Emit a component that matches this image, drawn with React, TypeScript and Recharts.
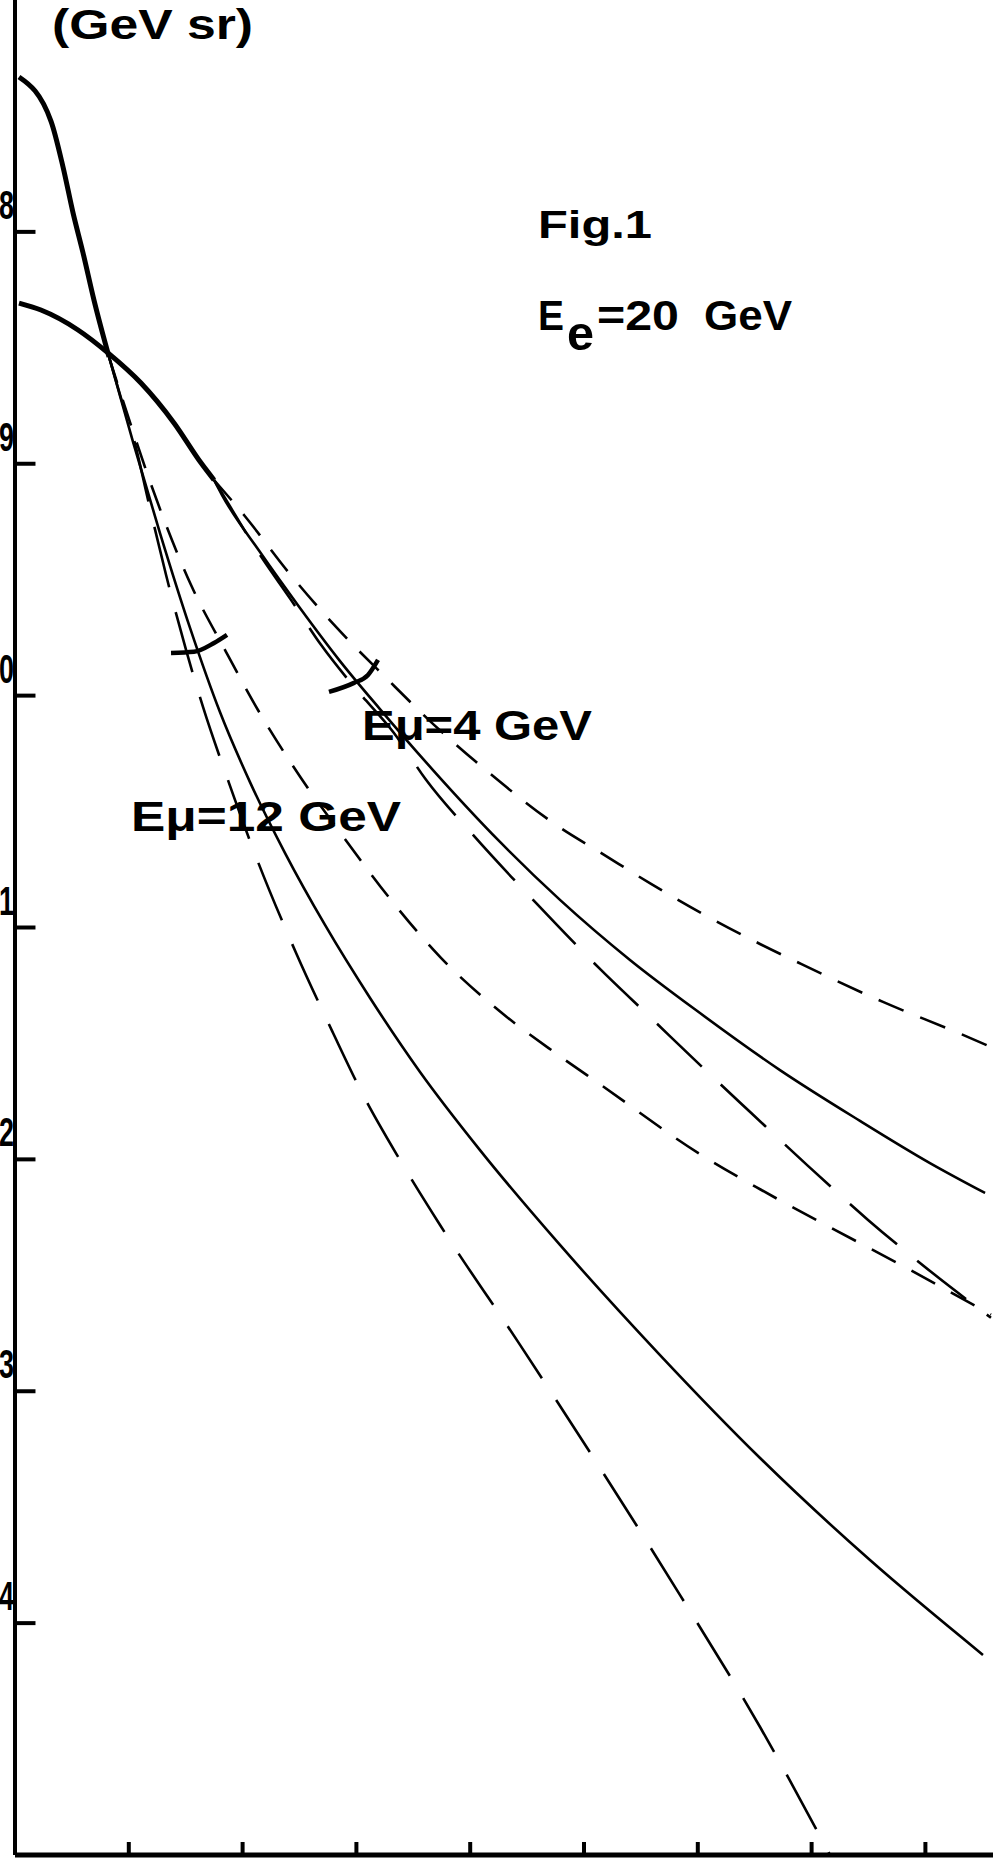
import { Line, LineChart, ReferenceLine, XAxis, YAxis } from 'recharts';

type Pt = [number, number];

// x in bottom-axis tick units, y = log10 of the cross-section (decade ticks -28 ... -34)
const X_TICKS = [1, 2, 3, 4, 5, 6, 7, 8];
const Y_TICKS = [-34, -33, -32, -31, -30, -29, -28];

// thick parts where the three curves of each muon energy coincide
const common12: Pt[] = [
    [0.035, -27.332], [0.316, -27.522], [0.422, -27.72], [0.51, -27.918],
    [0.598, -28.091], [0.694, -28.294], [0.826, -28.539],
];
const common4: Pt[] = [
    [0.035, -28.307], [0.228, -28.337], [0.554, -28.423], [0.817, -28.522],
    [1.107, -28.652], [1.397, -28.824], [1.634, -28.996], [1.749, -29.07],
];

// E_mu = 12 GeV
const solid12: Pt[] = [
    [0.826, -28.539], [1.037, -28.906], [1.274, -29.299], [1.538, -29.708], [1.801, -30.071],
    [2.065, -30.373], [2.373, -30.679], [2.724, -30.989], [3.12, -31.304], [3.559, -31.623],
    [4.086, -31.96], [4.789, -32.369], [5.668, -32.844], [6.547, -33.288], [7.513, -33.728],
    [8.506, -34.137],
];
const longDash12: Pt[] = [
    [0.826, -28.539], [0.931, -28.716], [1.046, -28.897], [1.169, -29.156], [1.327, -29.479],
    [1.503, -29.803], [1.652, -30.049], [1.88, -30.376], [2.118, -30.695], [2.469, -31.109],
    [2.794, -31.454], [3.067, -31.73], [3.383, -32.003], [3.735, -32.283], [4.438, -32.8],
    [5.141, -33.331], [5.844, -33.879], [6.547, -34.448], [7.162, -35.0],
];
const shortDash12: Pt[] = [
    [0.826, -28.539], [0.975, -28.768], [1.151, -29.027], [1.327, -29.264], [1.547, -29.523],
    [1.854, -29.811], [2.135, -30.062], [2.513, -30.355], [2.891, -30.613], [3.304, -30.881],
    [3.743, -31.131], [4.244, -31.355], [4.771, -31.549], [5.149, -31.679], [6.028, -31.98],
    [6.555, -32.131], [7.17, -32.295], [7.785, -32.455], [8.576, -32.67],
];

// E_mu = 4 GeV
const solid4: Pt[] = [
    [1.749, -29.07], [1.819, -29.135], [2.153, -29.381], [2.504, -29.622], [2.856, -29.851],
    [3.207, -30.058], [3.673, -30.321], [4.262, -30.631], [4.789, -30.881], [5.404, -31.14],
    [6.019, -31.369], [6.722, -31.615], [7.425, -31.834], [8.04, -32.016], [8.524, -32.145],
];
const longDash4: Pt[] = [
    [1.749, -29.07], [1.898, -29.191], [2.135, -29.38], [2.425, -29.587], [2.689, -29.781],
    [2.979, -29.962], [3.33, -30.161], [3.612, -30.363], [4.025, -30.601], [4.578, -30.894],
    [5.149, -31.183], [5.589, -31.39], [6.028, -31.597], [6.467, -31.799], [6.968, -32.028],
    [7.496, -32.261], [8.049, -32.485], [8.576, -32.683],
];
const shortDash4: Pt[] = [
    [1.749, -29.07], [2.012, -29.221], [2.408, -29.471], [2.821, -29.704], [3.278, -29.932],
    [3.682, -30.126], [4.156, -30.329], [4.78, -30.566], [5.149, -30.678], [5.589, -30.812],
    [6.028, -30.937], [6.494, -31.058], [6.907, -31.157], [7.627, -31.321], [8.286, -31.454],
    [8.594, -31.519],
];

// little arcs marking where the curves split
const arc12: Pt[] = [[1.371, -29.816], [1.573, -29.811], [1.749, -29.773], [1.863, -29.738]];
const arc4: Pt[] = [[2.759, -29.984], [2.979, -29.945], [3.102, -29.911], [3.19, -29.846]];

const LONG = '62 26';
const SHORT = '27 18';
const FONT = '"Liberation Sans", Arial, Helvetica, sans-serif';

const rows = (pts: Pt[]) => pts.map(([x, y]) => ({ x, y }));

const curves = [
    { name: 'common12', pts: common12, width: 5 },
    { name: 'common4', pts: common4, width: 5 },
    { name: 'solid12', pts: solid12, width: 2.6 },
    { name: 'longDash12', pts: longDash12, width: 2.6, dash: LONG },
    { name: 'shortDash12', pts: shortDash12, width: 2.6, dash: SHORT },
    { name: 'solid4', pts: solid4, width: 2.6 },
    { name: 'longDash4', pts: longDash4, width: 2.6, dash: LONG },
    { name: 'shortDash4', pts: shortDash4, width: 2.6, dash: SHORT },
    { name: 'arc12', pts: arc12, width: 4.5 },
    { name: 'arc4', pts: arc4, width: 4.5 },
];

const XTick = ({ x, y }: { x: number; y: number }) => (
    <line x1={x} x2={x} y1={y} y2={y - 13} stroke="#000" strokeWidth={4} />
);

// the labels are only the last digit of the exponent, printed just above each tick
const YTick = ({ x, y, payload }: { x: number; y: number; payload: { value: number } }) => (
    <text
        x={x - 1}
        y={y - 13}
        textAnchor="end"
        fontFamily={FONT}
        fontWeight="bold"
        fontSize={40}
        textLength={15}
        lengthAdjust="spacingAndGlyphs"
        fill="#000"
    >
        {Math.abs(payload.value) % 10}
    </text>
);

const App = () => {
    const txt = {
        fontFamily: FONT,
        fontWeight: 'bold' as const,
        fill: '#000',
        lengthAdjust: 'spacingAndGlyphs',
    };
    return (
        <div style={{ position: 'absolute', left: 0, top: 0, width: 993, height: 1870, background: '#fff' }}>
            <LineChart width={993} height={1870} margin={{ top: 0, right: 0, bottom: 14, left: 14 }}>
                <XAxis
                    type="number"
                    dataKey="x"
                    domain={[0, 8.594]}
                    ticks={X_TICKS}
                    allowDataOverflow
                    height={1}
                    tickSize={0}
                    tickMargin={0}
                    tickLine={false}
                    axisLine={{ stroke: '#000', strokeWidth: 5 }}
                    tick={(props: any) => <XTick {...props} />}
                />
                <YAxis
                    type="number"
                    dataKey="y"
                    domain={[-35, -27]}
                    ticks={Y_TICKS}
                    allowDataOverflow
                    width={1}
                    tickSize={0}
                    tickMargin={0}
                    tickLine={false}
                    axisLine={{ stroke: '#000', strokeWidth: 4 }}
                    tick={(props: any) => <YTick {...props} />}
                />
                {Y_TICKS.map((v) => (
                    <ReferenceLine
                        key={`yt${v}`}
                        segment={[{ x: 0, y: v }, { x: 0.18, y: v }]}
                        stroke="#000"
                        strokeWidth={4}
                        ifOverflow="visible"
                    />
                ))}
                {curves.map((c) => (
                    <Line
                        key={c.name}
                        data={rows(c.pts)}
                        dataKey="y"
                        type="monotone"
                        stroke="#000"
                        strokeWidth={c.width}
                        strokeDasharray={c.dash}
                        strokeLinecap="butt"
                        dot={false}
                        activeDot={false}
                        isAnimationActive={false}
                    />
                ))}
            </LineChart>
            <svg
                width={993}
                height={1870}
                style={{ position: 'absolute', left: 0, top: 0, pointerEvents: 'none', whiteSpace: 'pre' }}
            >
                <text x={52} y={39} fontSize={42} textLength={201} {...txt}>
                    (GeV  sr)
                </text>
                <text x={538} y={238} fontSize={38} textLength={114} {...txt}>
                    Fig.1
                </text>
                <text x={538} y={330} fontSize={42} textLength={26} {...txt}>E</text>
                <text x={567} y={350} fontSize={48} textLength={27} {...txt}>e</text>
                <text x={597} y={330} fontSize={42} textLength={82} {...txt}>=20</text>
                <text x={704} y={330} fontSize={42} textLength={88} {...txt}>GeV</text>
                <text x={362} y={740} fontSize={42} textLength={230} {...txt}>
                    Eμ=4  GeV
                </text>
                <text x={131} y={831} fontSize={43} textLength={270} {...txt}>
                    Eμ=12  GeV
                </text>
            </svg>
        </div>
    );
};

export default App;
